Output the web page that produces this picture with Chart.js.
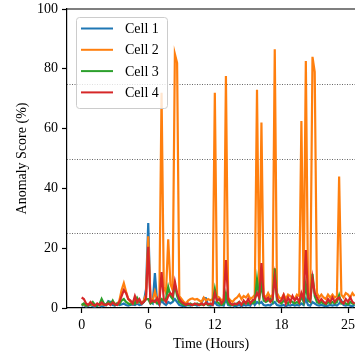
<!DOCTYPE html>
<html>
<head>
<meta charset="utf-8">
<script src="https://cdn.jsdelivr.net/npm/chart.js@4.4.1/dist/chart.umd.min.js"></script>
<style>
  html, body { margin: 0; padding: 0; background: #fff; overflow: hidden; }
</style>
</head>
<body>
<canvas id="grafico" width="355" height="355"></canvas>
<script>
const seriesNames = ["Cell 1", "Cell 2", "Cell 3", "Cell 4"];
const seriesColors = ["#1f77b4", "#ff7f0e", "#2ca02c", "#d62728"];
const timeStep = 0.2; // hours between samples
const xTickValues = [0, 6, 12, 18, 24];
const xTickLabels = ["0", "6", "12", "18", "25"];
const thresholds = [25, 50, 75];

// one row = 2 hours
const cell1 = [
  0.8, 1, 0.5, 0.8, 1, 0.6, 0.5, 0.8, 1, 0.6,
  0.8, 1, 2.3, 2, 1, 0.8, 1.5, 1, 1.2, 1.5,
  1, 0.8, 1, 1.2, 1, 1.5, 1, 1.2, 2, 6.3,
  28.4, 2, 1.5, 11.7, 2, 1, 2.5, 1.5, 1, 2,
  1.5, 2, 3, 2, 1, 0.8, 0.6, 0.8, 1, 0.8,
  1, 1.2, 0.8, 1, 1.5, 3.4, 3.3, 1, 0.8, 1,
  2, 1, 0.8, 1, 0.8, 3, 1, 0.8, 1, 0.6,
  0.8, 1, 0.6, 1, 0.8, 1, 0.8, 2.3, 1, 2,
  1.5, 2, 1, 0.8, 1, 0.8, 1.5, 2, 1, 0.8,
  0.8, 1, 0.6, 1, 0.8, 1.2, 0.8, 1, 0.8, 1.5,
  1, 3, 1, 0.8, 2, 1.5, 1, 0.8, 1, 0.8,
  0.6, 0.8, 1, 0.8, 1, 0.8, 1.5, 2.5, 1, 0.8,
  1, 0.8, 0.6, 1
];
const cell2 = [
  1, 1.2, 0.8, 1, 1.2, 1, 0.8, 1.2, 1, 1.3,
  1.2, 1, 1.8, 1.3, 2, 1.5, 1.2, 2.5, 6, 8.3,
  5.5, 3, 2, 1.5, 2.5, 1.8, 2.2, 1.5, 2.5, 4.5,
  24, 3, 2.5, 5.5, 2.5, 2, 72, 7, 5, 23,
  8, 6, 85, 82, 4, 3, 2, 1.5, 2.5, 3,
  3.2, 2.8, 3, 2.5, 2, 3.5, 2.5, 3, 2.5, 3,
  72, 4, 3.5, 2.5, 3, 77.6, 3.5, 2.5, 2, 3,
  3.5, 4.5, 3, 4, 3.5, 4.5, 3, 3.5, 4.5, 73,
  5, 62, 4.5, 3.5, 5, 3.5, 4.5, 86.5, 5, 3.5,
  3, 4.5, 3, 4.5, 4, 3.5, 3, 4.5, 4, 62.5,
  4.5, 82.6, 5, 4, 84, 79, 5, 3.5, 4.5, 3.5,
  3, 4.5, 3.5, 4.5, 3.5, 4, 44, 4.5, 3.5, 5,
  4.5, 3.5, 5, 4
];
const cell3 = [
  1, 1.5, 0.8, 1, 1.2, 2, 1, 0.8, 1.2, 3,
  1.5, 1, 2, 1.2, 2.5, 1, 1.5, 1.2, 2.5, 3,
  2, 1.5, 1.2, 2, 1.5, 3.4, 2, 1.5, 2, 3,
  3, 1.5, 2, 2.5, 1.5, 2, 3, 2.5, 3, 7,
  4, 3, 7.7, 4, 2, 1.5, 1, 1.2, 1, 1.5,
  1, 1.2, 1.5, 1, 1.2, 1, 1.5, 1, 1.2, 1.5,
  6.3, 2, 1.5, 1, 1.5, 5, 1.5, 1, 1.2, 1,
  1.5, 2, 1.2, 1.5, 2, 1.5, 2, 1.5, 2, 9.6,
  3, 8, 2.5, 2, 2.5, 3, 2, 13.3, 2.5, 2,
  1.5, 2.5, 2, 1.5, 2.5, 2, 1.5, 2, 1.5, 4,
  2, 8, 2.5, 2, 11.4, 4, 2, 1.5, 2, 1.5,
  1.2, 2, 1.5, 2, 1.5, 2, 4.3, 1.5, 2, 1.5,
  1.2, 2, 1.5, 1.2
];
const cell4 = [
  3.5, 3, 1.5, 1, 2, 1.2, 0.8, 1.5, 1, 1.8,
  1.2, 1, 1.5, 1, 1.8, 1.2, 1, 2, 4, 6,
  5, 3, 2.5, 1.5, 4, 2, 3, 1.5, 2, 3,
  20.5, 2, 2.5, 2, 3.3, 1.5, 12, 3, 2, 4,
  5, 4, 8.8, 5, 3, 2, 1.5, 1, 1.5, 1.2,
  1, 1.5, 1.2, 1, 1.5, 1, 1.8, 1.2, 1.5, 1,
  5, 2.5, 3, 1.5, 2.5, 16, 3, 1.5, 1, 1.5,
  1.2, 2, 1, 2.5, 1.5, 3, 1.5, 2.5, 3, 5,
  3.5, 15, 4, 2.5, 3.5, 2, 3, 10.5, 3.5, 2,
  2.5, 4.3, 1.5, 3.5, 2, 4, 2.5, 3.5, 2, 5,
  3, 19.4, 3.5, 2.5, 10, 5, 3.5, 2, 3, 2,
  1.5, 3, 2, 3.5, 2, 3, 3.5, 2, 1.5, 3,
  2, 3.5, 2, 1.5
];
const seriesValues = [cell1, cell2, cell3, cell4];

const fonte = { family: "'Liberation Serif', 'Times New Roman', serif", size: 14 };

function pontos(valores) {
  return valores.map((v, i) => ({ x: i * timeStep, y: v }));
}

// dotted reference lines, drawn under the data
const limiaresPlugin = {
  id: "limiares",
  beforeDatasetsDraw(chart) {
    const ctx = chart.ctx;
    const area = chart.chartArea;
    const y = chart.scales.y;
    ctx.save();
    ctx.strokeStyle = "#666";
    ctx.lineWidth = 1;
    ctx.setLineDash([1, 1.5]);
    thresholds.forEach(t => {
      const py = Math.round(y.getPixelForValue(t)) + 0.5;
      ctx.beginPath();
      ctx.moveTo(area.left, py);
      ctx.lineTo(area.right, py);
      ctx.stroke();
    });
    ctx.restore();
  },
  afterDraw(chart) {
    // top spine
    const ctx = chart.ctx;
    const area = chart.chartArea;
    ctx.save();
    ctx.strokeStyle = "#000";
    ctx.lineWidth = 1.2;
    ctx.beginPath();
    ctx.moveTo(area.left, area.top);
    ctx.lineTo(area.right, area.top);
    ctx.stroke();
    ctx.restore();
  }
};

const legendaPlugin = {
  id: "legenda",
  afterDatasetsDraw(chart) {
    const ctx = chart.ctx;
    const area = chart.chartArea;
    const x0 = area.left + 9;
    const y0 = area.top + 8;
    ctx.save();
    ctx.beginPath();
    ctx.roundRect(x0 + 0.5, y0 + 0.5, 91, 91, 3);
    ctx.fillStyle = "rgba(255,255,255,0.8)";
    ctx.fill();
    ctx.strokeStyle = "#cccccc";
    ctx.lineWidth = 1;
    ctx.stroke();
    ctx.font = "14px " + fonte.family;
    ctx.textBaseline = "middle";
    ctx.fillStyle = "#000";
    seriesNames.forEach((nome, i) => {
      const y = y0 + 11.5 + i * 21.3;
      ctx.strokeStyle = seriesColors[i];
      ctx.lineWidth = 2;
      ctx.beginPath();
      ctx.moveTo(x0 + 5, y);
      ctx.lineTo(x0 + 37, y);
      ctx.stroke();
      ctx.fillText(nome, x0 + 49, y + 1);
    });
    ctx.restore();
  }
};

new Chart(document.getElementById("grafico"), {
  type: "line",
  data: {
    datasets: seriesNames.map((nome, i) => ({
      label: nome,
      data: pontos(seriesValues[i]),
      borderColor: seriesColors[i],
      backgroundColor: seriesColors[i],
      borderWidth: 2.2,
      pointRadius: 0,
      tension: 0,
      order: seriesNames.length - 1 - i
    }))
  },
  options: {
    responsive: false,
    animation: false,
    devicePixelRatio: 1,
    layout: { padding: { top: 9, right: 0, left: 0, bottom: 0 } },
    plugins: {
      legend: { display: false },
      tooltip: { enabled: false }
    },
    scales: {
      x: {
        type: "linear",
        min: -1.32,
        max: 24.63,
        afterBuildTicks: scale => {
          scale.ticks = xTickValues.map(v => ({ value: v }));
        },
        afterFit: scale => {
          scale.height = 47;
          scale.paddingLeft = 0;
          scale.paddingRight = 0;
        },
        ticks: {
          autoSkip: false,
          maxRotation: 0,
          padding: 4,
          color: "#000",
          font: fonte,
          callback: v => xTickLabels[xTickValues.indexOf(v)]
        },
        grid: { drawOnChartArea: false, tickLength: 5, tickColor: "#000", tickWidth: 1.2 },
        border: { color: "#000", width: 1.2 },
        title: { display: true, text: "Time (Hours)", color: "#000", font: fonte, padding: { top: 0, bottom: 2 } }
      },
      y: {
        min: 0,
        max: 100,
        afterFit: scale => {
          scale.width = 67;
          scale.paddingTop = 0;
          scale.paddingBottom = 0;
        },
        ticks: { stepSize: 20, padding: 4, color: "#000", font: fonte },
        grid: { drawOnChartArea: false, tickLength: 5, tickColor: "#000", tickWidth: 1.2 },
        border: { color: "#000", width: 1.2 },
        title: { display: true, text: "Anomaly Score (%)", color: "#000", font: fonte, padding: { top: 14, bottom: 0 } }
      }
    }
  },
  plugins: [limiaresPlugin, legendaPlugin]
});
</script>
</body>
</html>
